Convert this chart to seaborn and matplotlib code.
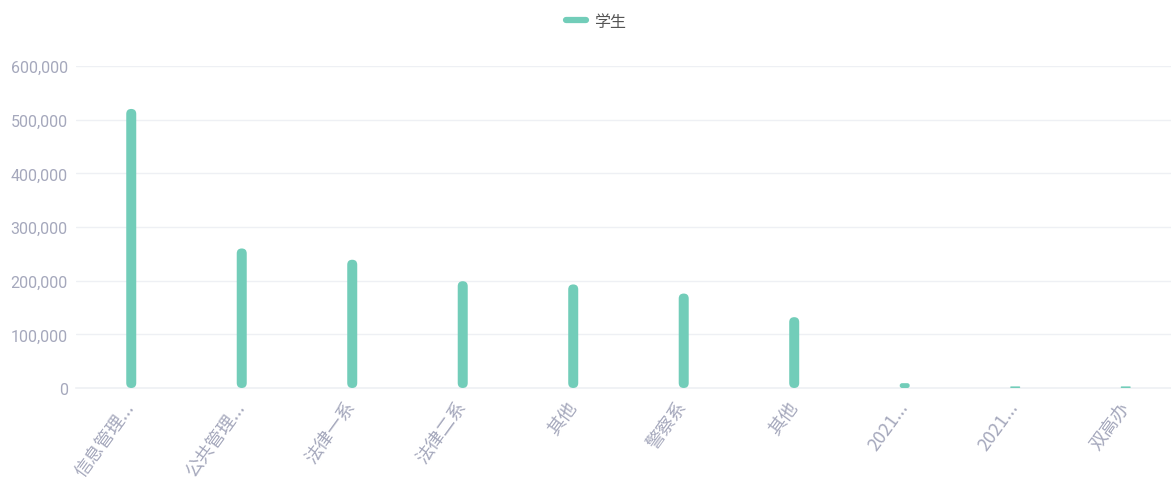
import matplotlib
matplotlib.use('Agg')
import matplotlib.pyplot as plt
import pandas as pd
import seaborn as sns
from matplotlib.lines import Line2D
from matplotlib.patches import FancyBboxPatch
from matplotlib.ticker import FuncFormatter

# data
labels = ['信息管理...', '公共管理...', '法律一系', '法律二系', '其他',
          '警察系', '其他', '2021...', '2021...', '双高办']
students = [520000, 260000, 239000, 199000, 193000, 176000, 132000, 9000, 3000, 3000]
yticks = [0, 100000, 200000, 300000, 400000, 500000, 600000]

teal = '#72cdb9'
tick_gray = '#a5a8bc'
grid_gray = '#eef0f4'

df = pd.DataFrame({'pos': range(len(labels)), 'value': students})

sns.set_theme(style='white')
plt.rcParams['font.family'] = ['Roboto', 'Noto Sans CJK SC', 'DejaVu Sans']

fig = plt.figure(figsize=(11.71, 4.81), dpi=100)
ax = fig.add_axes([76 / 1171, (481 - 389) / 481, 1 - 76 / 1171, (389 - 67) / 481])

bar_px = 10.0
step_px = 110.5
sns.barplot(data=df, x='pos', y='value', color=teal, width=bar_px / step_px,
            saturation=1, ax=ax, zorder=3)

ax.set_xlim(-0.5, 9.41)
ax.set_ylim(0, 600000)

# swap the square bars for rounded ones of the same size
px_per_val = (389 - 67) / 600000
aspect = (1 / px_per_val) / (1 / step_px)   # y data units per x data unit (per pixel)
for p in list(ax.patches):
    x0, w, h = p.get_x(), p.get_width(), p.get_height()
    h_px = h * px_per_val
    r = min(bar_px / 2, h_px / 2) / step_px
    rb = FancyBboxPatch((x0, 0), w, h, boxstyle=f'round,pad=0,rounding_size={r}',
                        mutation_aspect=aspect, facecolor=teal, edgecolor='none',
                        zorder=3, clip_on=False)
    p.remove()
    ax.add_patch(rb)

ax.set_yticks(yticks)
ax.yaxis.set_major_formatter(FuncFormatter(lambda v, _: f'{int(v):,}'))
ax.tick_params(axis='y', length=0, pad=6, labelsize=11.5, labelcolor=tick_gray)
ax.grid(axis='y', color=grid_gray, linewidth=1, zorder=0)

ax.set_xticks(range(len(labels)))
ax.set_xticklabels(labels, rotation=54, ha='right', va='center',
                   rotation_mode='anchor', fontsize=13,
                   family=['Noto Sans CJK SC', 'DejaVu Sans'])
ax.tick_params(axis='x', length=0, pad=11, labelcolor=tick_gray)

ax.set_xlabel('')
ax.set_ylabel('')
for s in ['top', 'right', 'left']:
    ax.spines[s].set_visible(False)
ax.spines['bottom'].set_color(grid_gray)
ax.spines['bottom'].set_linewidth(1.2)

handle = Line2D([], [], color=teal, linewidth=4.5, solid_capstyle='round')
leg = fig.legend([handle], ['学生'], loc='center', bbox_to_anchor=(596 / 1171, 1 - 22 / 481),
                 frameon=False, handlelength=1.3, handletextpad=0.5,
                 prop={'family': ['Noto Sans CJK SC', 'DejaVu Sans'], 'size': 11.5})
for t in leg.get_texts():
    t.set_color('#555555')

fig.savefig('out.png', dpi=100)
plt.close(fig)
